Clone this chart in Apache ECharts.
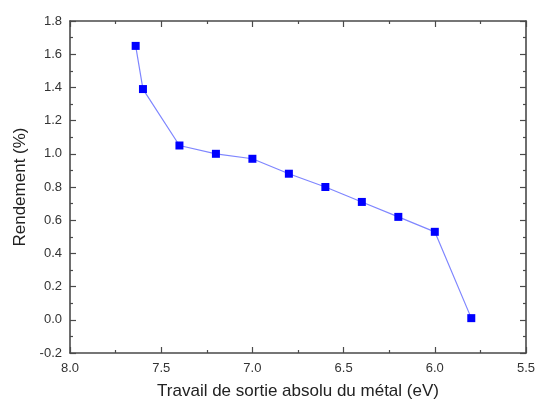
<!DOCTYPE html>
<html>
<head>
<meta charset="utf-8">
<script src="https://cdn.jsdelivr.net/npm/echarts@6/dist/echarts.min.js"></script>
<style>
html,body{margin:0;padding:0;background:#fff;}
#c{width:539px;height:405px;}
</style>
</head>
<body>
<div id="c"></div>
<script>
var workFunction = [7.64, 7.60, 7.40, 7.20, 7.00, 6.80, 6.60, 6.40, 6.20, 6.00, 5.80];
var yieldPct = [1.65, 1.39, 1.05, 1.00, 0.97, 0.88, 0.80, 0.71, 0.62, 0.53, 0.01];
var xTitle = 'Travail de sortie absolu du métal (eV)';
var yTitle = 'Rendement (%)';

var pts = workFunction.map(function(x, i){ return [x, yieldPct[i]]; });
var axisColor = '#4a4a4a';
var font = 'Liberation Sans, Arial, sans-serif';

function xAx(pos, show){
  return {
    type:'value', position:pos, inverse:true, min:5.5, max:8.0, interval:0.5,
    name: show ? xTitle : '', nameLocation:'middle', nameGap:30,
    nameTextStyle:{fontSize:17, color:'#222', fontFamily:font},
    axisLine:{show:true, onZero:false, lineStyle:{color:axisColor, width:1.6}},
    axisTick:{show:true, inside:true, length:6, lineStyle:{color:axisColor, width:1.2}},
    minorTick:{show:true, splitNumber:2, length:3, lineStyle:{color:axisColor, width:1.2}},
    axisLabel:{show:show, fontSize:13, color:'#333', fontFamily:font, margin:9,
      formatter:function(v){return v.toFixed(1);}},
    splitLine:{show:false}
  };
}
function yAx(pos, show){
  return {
    type:'value', position:pos, min:-0.2, max:1.8, interval:0.2,
    name: show ? yTitle : '', nameLocation:'middle', nameGap:34,
    nameTextStyle:{fontSize:17, color:'#222', fontFamily:font},
    axisLine:{show:true, onZero:false, lineStyle:{color:axisColor, width:1.6}},
    axisTick:{show:true, inside:true, length:6, lineStyle:{color:axisColor, width:1.2}},
    minorTick:{show:true, splitNumber:2, length:3, lineStyle:{color:axisColor, width:1.2}},
    axisLabel:{show:show, fontSize:13, color:'#333', fontFamily:font, margin:8,
      formatter:function(v){return v.toFixed(1);}},
    splitLine:{show:false}
  };
}

var chart = echarts.init(document.getElementById('c'), null, {renderer:'canvas'});
chart.setOption({
  animation:false,
  backgroundColor:'#fff',
  grid:{left:70, right:13, top:21, bottom:50, containLabel:false},
  xAxis:[xAx('bottom', true), xAx('top', false)],
  yAxis:[yAx('left', true), yAx('right', false)],
  series:[{
    type:'line', xAxisIndex:0, yAxisIndex:0, data:pts,
    symbol:'rect', symbolSize:8,
    lineStyle:{color:'#7f86ff', width:1.2},
    itemStyle:{color:'#0000ff'}
  }]
});
</script>
</body>
</html>
